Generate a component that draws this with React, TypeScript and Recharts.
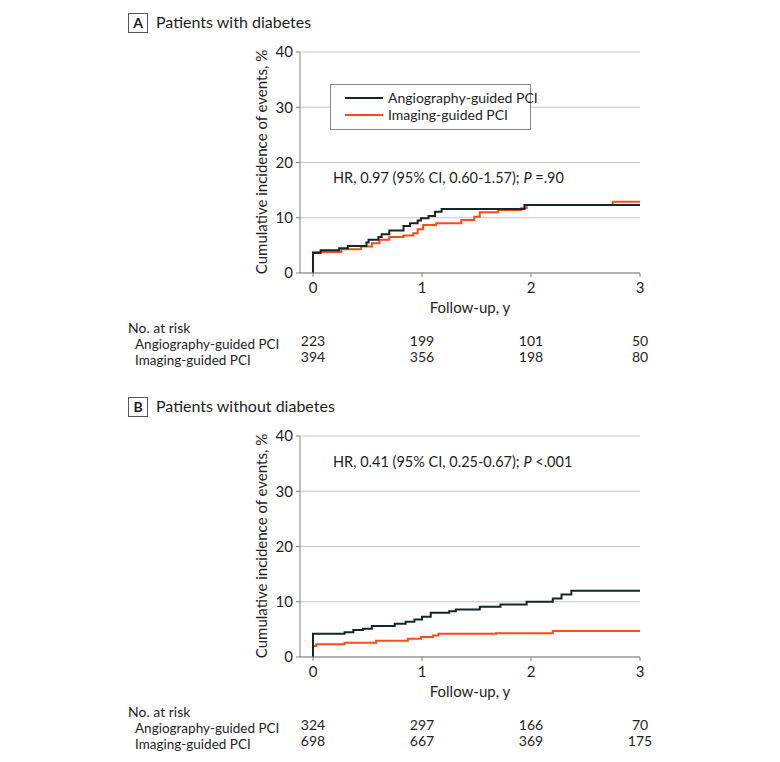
import React from "react";
import { CartesianGrid, Legend, Line, LineChart, XAxis, YAxis } from "recharts";

const FONT = "Lato, 'DejaVu Sans Condensed', sans-serif";
const ANGIO_COLOR = "#152627";
const IMAGING_COLOR = "#fc4b17";
const GRID = "#c4c4c4";
const AXIS = "#808080";
const INK = "#1e1e1e";

const yearTicks = [0, 1, 2, 3];
const pctTicks = [0, 10, 20, 30, 40];

const ANGIO_NAME = "Angiography-guided PCI";
const IMAGING_NAME = "Imaging-guided PCI";
const legendOrder = [ANGIO_NAME, IMAGING_NAME];

// panel A, patients with diabetes
const diabAngioYears = [0, 0, 0.07, 0.24, 0.32, 0.49, 0.51, 0.6, 0.63, 0.7, 0.83, 0.89, 0.96, 0.99, 1.06, 1.12, 1.18, 1.94, 3.0];
const diabAngioPct = [0, 3.6, 4.1, 4.5, 4.9, 5.5, 6.0, 6.5, 7.0, 7.7, 8.5, 9.0, 9.5, 9.9, 10.3, 11.1, 11.6, 12.3, 12.3];
const diabImagingYears = [0, 0, 0.26, 0.44, 0.54, 0.61, 0.7, 0.83, 0.92, 0.96, 1.01, 1.13, 1.36, 1.48, 1.53, 1.7, 1.91, 1.96, 2.75, 3.0];
const diabImagingPct = [0, 3.8, 4.3, 4.8, 5.4, 6.0, 6.5, 6.8, 7.2, 7.9, 8.7, 9.0, 9.6, 10.2, 11.0, 11.4, 11.7, 12.3, 12.9, 12.9];
const diabRiskAngio = [223, 199, 101, 50];
const diabRiskImaging = [394, 356, 198, 80];

// panel B, patients without diabetes
const noDiabAngioYears = [0, 0, 0.29, 0.37, 0.46, 0.54, 0.75, 0.85, 0.93, 1.0, 1.08, 1.25, 1.31, 1.53, 1.72, 1.96, 2.2, 2.28, 2.37, 3.0];
const noDiabAngioPct = [0, 4.2, 4.5, 4.9, 5.1, 5.6, 6.0, 6.4, 6.8, 7.3, 8.0, 8.3, 8.6, 9.1, 9.5, 10.0, 10.6, 11.3, 12.0, 12.0];
const noDiabImagingYears = [0, 0, 0.03, 0.29, 0.58, 0.87, 0.99, 1.1, 1.15, 1.68, 2.2, 3.0];
const noDiabImagingPct = [0, 2.0, 2.3, 2.6, 2.95, 3.3, 3.6, 3.9, 4.2, 4.3, 4.7, 4.7];
const noDiabRiskAngio = [324, 297, 166, 70];
const noDiabRiskImaging = [698, 667, 369, 175];

const toSteps = (years: number[], pct: number[]) => years.map((t, i) => ({ t, v: pct[i] }));

const LegendBox = (props: any) => {
  const items = [...(props.payload || [])].sort(
    (a: any, b: any) => legendOrder.indexOf(a.value) - legendOrder.indexOf(b.value)
  );
  return (
    <div
      style={{
        border: "1px solid #8a8a8a",
        background: "#fff",
        width: 199,
        height: 44,
        position: "relative",
        fontFamily: FONT,
        fontSize: 14,
        color: INK,
        whiteSpace: "nowrap",
      }}
    >
      {items.map((it: any, i: number) => (
        <div
          key={it.value}
          style={{ position: "absolute", left: 14, top: 4 + i * 17, display: "flex", alignItems: "center", height: 17 }}
        >
          <span style={{ display: "inline-block", width: 38, height: 2, background: it.color, marginRight: 5 }} />
          <span>{it.value}</span>
        </div>
      ))}
    </div>
  );
};

type PanelProps = {
  letter: string;
  title: string;
  angio: { t: number; v: number }[];
  imaging: { t: number; v: number }[];
  riskAngio: number[];
  riskImaging: number[];
  hr: string;
  p: string;
  hrY: number;
  legend: boolean;
  height: number;
};

const Panel = ({ letter, title, angio, imaging, riskAngio, riskImaging, hr, p, hrY, legend, height }: PanelProps) => {
  const RiskTick = (props: any) => {
    const { x, y, payload } = props;
    const i = yearTicks.indexOf(payload.value);
    return (
      <g fontFamily={FONT} fontSize={14} fill={INK}>
        <text x={x} y={y + 14} textAnchor="middle" fontSize={15}>{payload.value}</text>
        <text x={x} y={y + 67} textAnchor="middle">{riskAngio[i]}</text>
        <text x={x} y={y + 83} textAnchor="middle">{riskImaging[i]}</text>
      </g>
    );
  };

  return (
    <div style={{ position: "relative", width: 780, height }}>
      <LineChart width={780} height={height} margin={{ top: 52, right: 140, bottom: height - 273 - 30, left: 240 }}>
        <CartesianGrid vertical={false} stroke={GRID} />
        <XAxis
          type="number"
          dataKey="t"
          domain={[0, 3]}
          ticks={yearTicks}
          padding={{ left: 13, right: 0 }}
          height={30}
          stroke={AXIS}
          tickSize={4}
          tickMargin={2}
          tick={<RiskTick />}
          allowDuplicatedCategory={false}
        />
        <YAxis
          type="number"
          domain={[0, 40]}
          ticks={pctTicks}
          width={60}
          stroke={AXIS}
          tickSize={4}
          tickMargin={3}
          tick={{ fill: INK, fontSize: 15, fontFamily: FONT }}
        />
        {legend && (
          <Legend
            layout="vertical"
            align="center"
            verticalAlign="middle"
            wrapperStyle={{ left: 330, top: 84, width: 201, height: 46 }}
            content={<LegendBox />}
          />
        )}
        <Line
          data={imaging}
          dataKey="v"
          name={IMAGING_NAME}
          type="stepAfter"
          stroke={IMAGING_COLOR}
          strokeWidth={2}
          dot={false}
          isAnimationActive={false}
        />
        <Line
          data={angio}
          dataKey="v"
          name={ANGIO_NAME}
          type="stepAfter"
          stroke={ANGIO_COLOR}
          strokeWidth={2}
          dot={false}
          isAnimationActive={false}
        />
      </LineChart>
      <svg
        width={780}
        height={height}
        style={{ position: "absolute", left: 0, top: 0, pointerEvents: "none" }}
        fontFamily={FONT}
        fill={INK}
      >
        <rect x={128.5} y={13.5} width={19} height={19} fill="none" stroke="#555" />
        <text x={138} y={28} textAnchor="middle" fontWeight="bold" fontSize={14}>{letter}</text>
        <text x={156} y={28} fontSize={16}>{title}</text>
        <text transform="translate(267,162) rotate(-90)" textAnchor="middle" fontSize={15}>
          Cumulative incidence of events, %
        </text>
        <text x={333} y={hrY} fontSize={14.5}>
          {hr}
          <tspan fontStyle="italic">P</tspan>
          {p}
        </text>
        <text x={470} y={313} textAnchor="middle" fontSize={15}>Follow-up, y</text>
        <text x={128} y={333} fontSize={14}>No. at risk</text>
        <text x={135} y={349} fontSize={13.5}>{ANGIO_NAME}</text>
        <text x={135} y={365} fontSize={13.5}>{IMAGING_NAME}</text>
      </svg>
    </div>
  );
};

export default function App() {
  return (
    <div style={{ position: "absolute", left: 0, top: 0, width: 780, background: "#fff" }}>
      <Panel
        letter="A"
        title="Patients with diabetes"
        angio={toSteps(diabAngioYears, diabAngioPct)}
        imaging={toSteps(diabImagingYears, diabImagingPct)}
        riskAngio={diabRiskAngio}
        riskImaging={diabRiskImaging}
        hr="HR, 0.97 (95% CI, 0.60-1.57); "
        p=" =.90"
        hrY={183}
        legend
        height={384}
      />
      <Panel
        letter="B"
        title="Patients without diabetes"
        angio={toSteps(noDiabAngioYears, noDiabAngioPct)}
        imaging={toSteps(noDiabImagingYears, noDiabImagingPct)}
        riskAngio={noDiabRiskAngio}
        riskImaging={noDiabRiskImaging}
        hr="HR, 0.41 (95% CI, 0.25-0.67); "
        p=" <.001"
        hrY={83}
        legend={false}
        height={378}
      />
    </div>
  );
}
